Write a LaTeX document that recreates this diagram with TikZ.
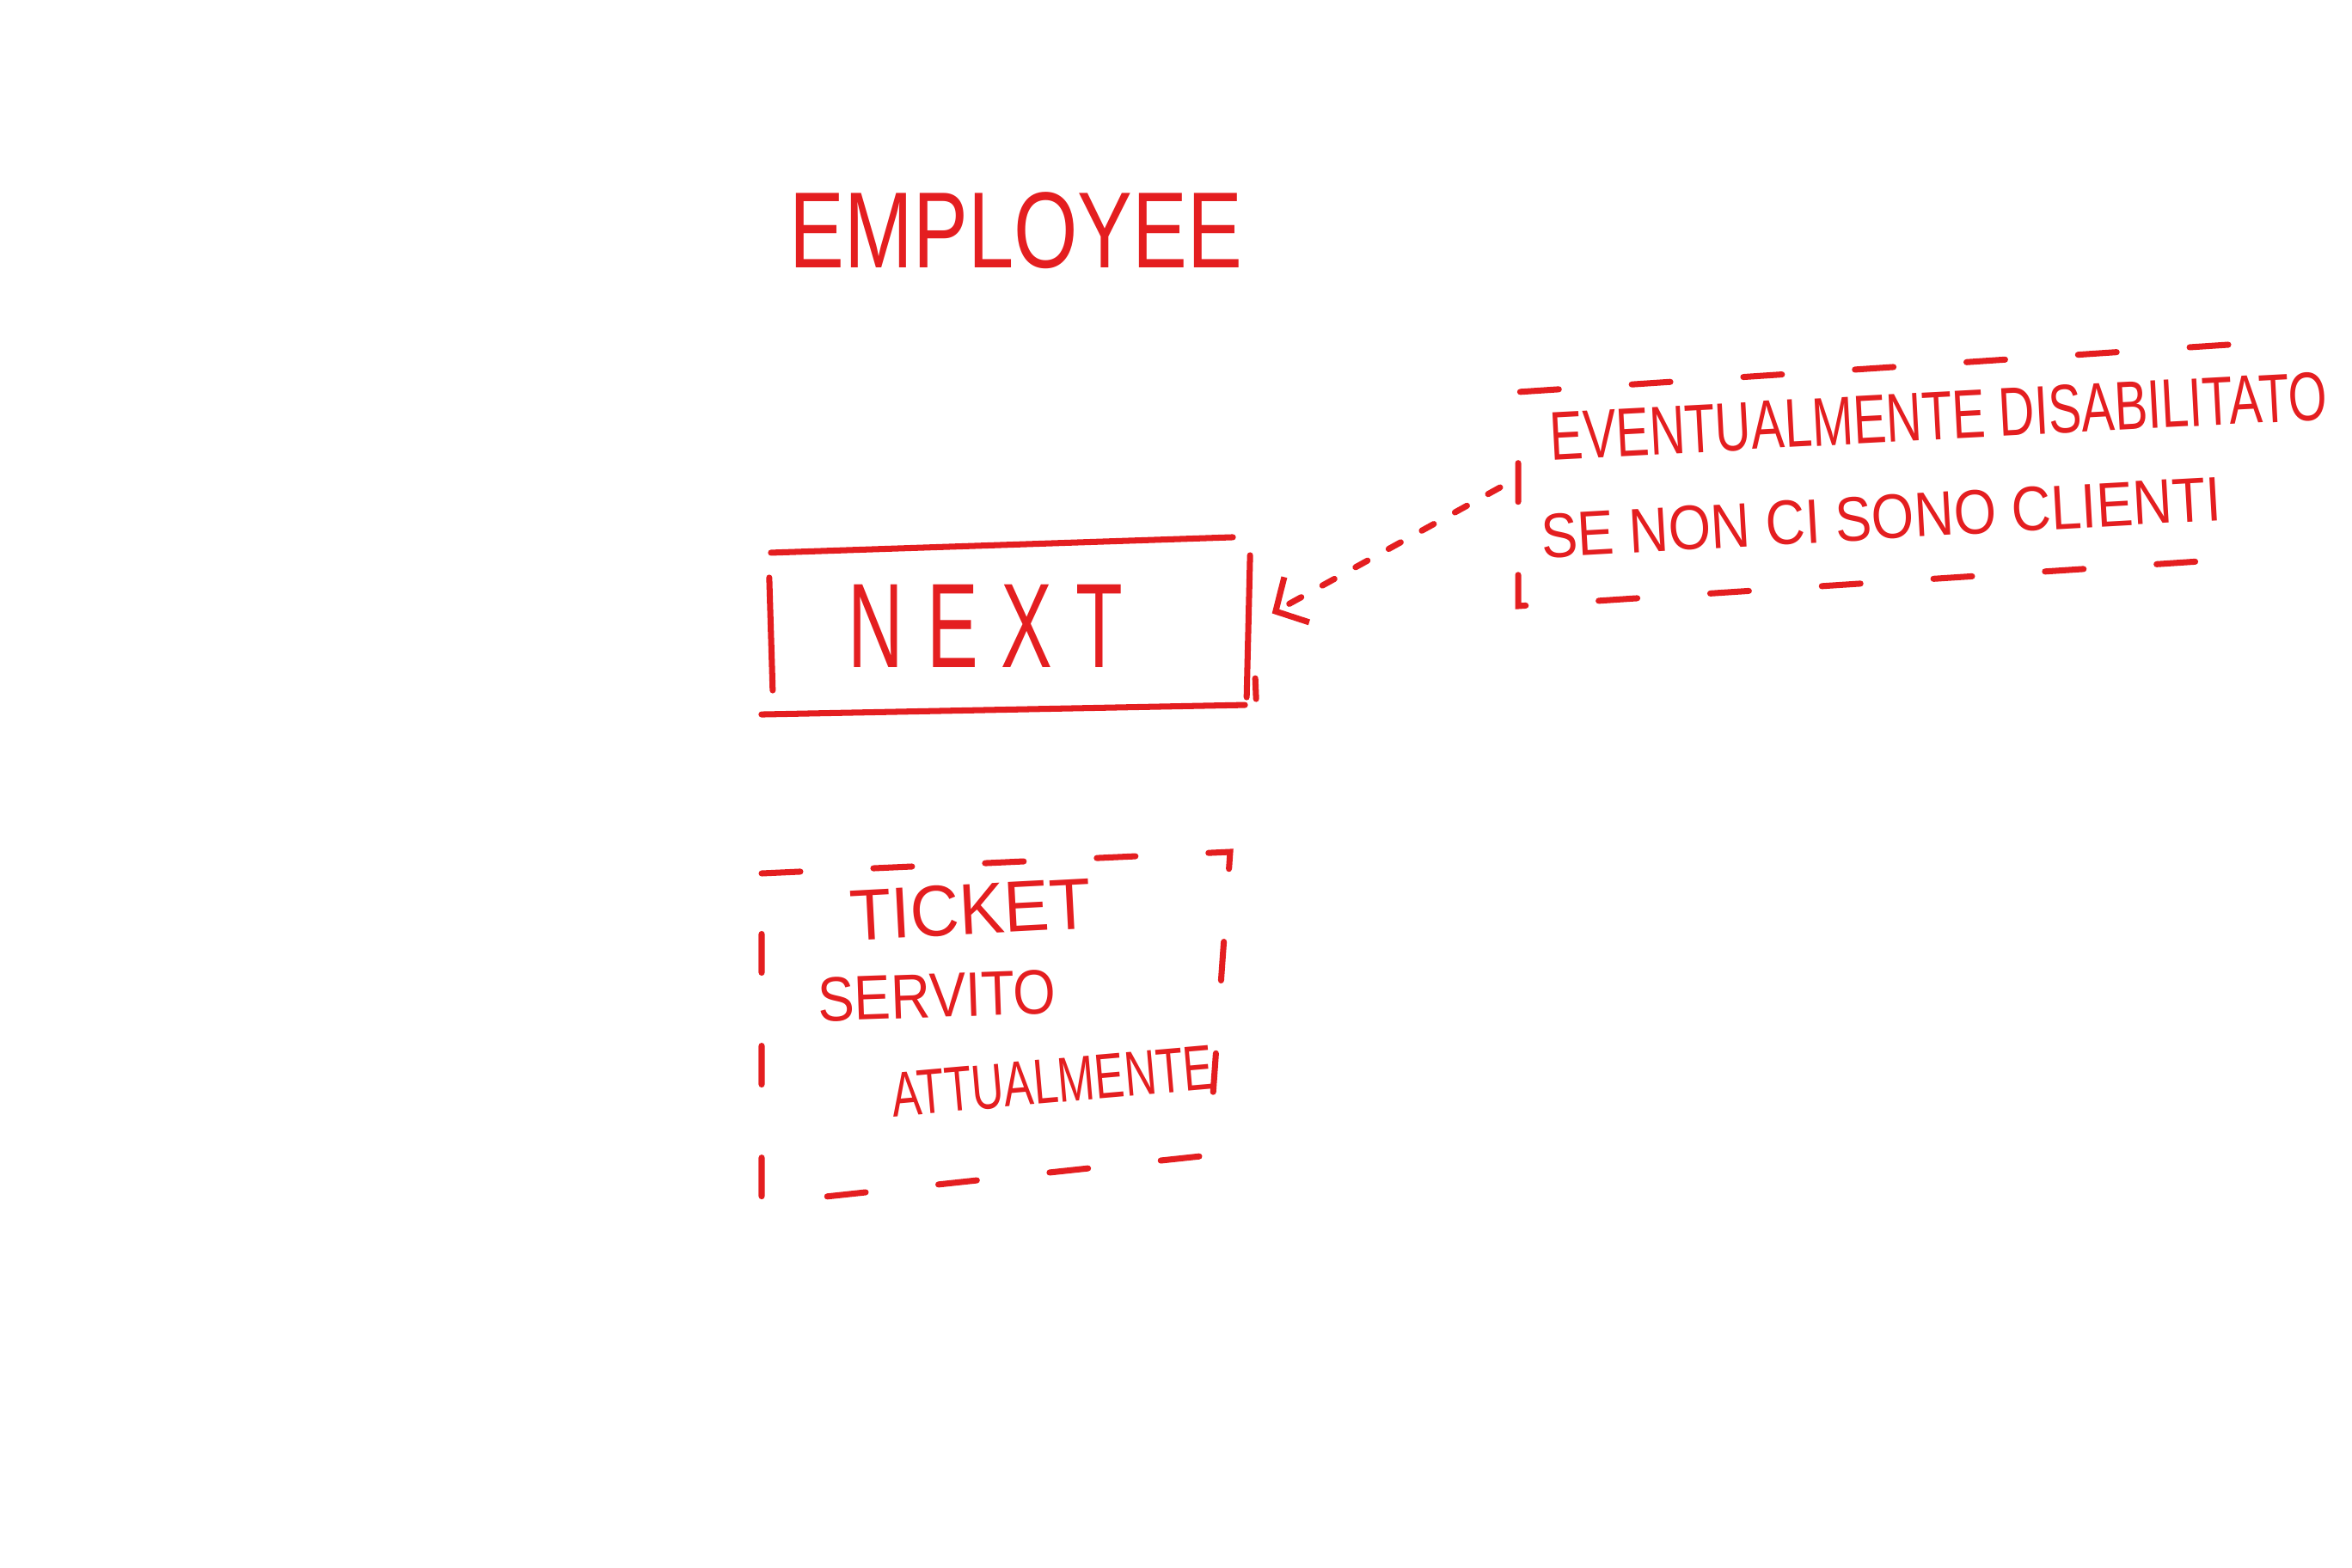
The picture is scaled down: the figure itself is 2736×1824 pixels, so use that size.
\documentclass[tikz,border=0pt]{standalone}
\usepackage{fontspec}
\setmainfont{Liberation Sans}
\usetikzlibrary{arrows.meta,calc}
\definecolor{ink}{HTML}{E41E20}
\begin{document}
\begin{tikzpicture}[x=0.01cm,y=-0.01cm,
  every node/.style={text=ink, inner sep=0pt, outer sep=0pt},
  stroke/.style={draw=ink, line width=2pt, line cap=round},
  dashbox/.style={stroke, dash pattern=on 0.45cm off 0.85cm},
  hand/.style={font=\fontsize{#1}{#1}\selectfont}
]
\useasboundingbox[fill=white] (0,0) rectangle (2736,1824);

% title
\node[hand=35.8] (employee) at (1182,268) {\scalebox{0.76}[1]{EMPLOYEE}};

% NEXT box
\node[minimum width=5.66cm, minimum height=2cm] (next) at (1172,727) {};
\node[hand=39.8] (nextlbl) at (1133,728) {\scalebox{0.64}[1]{{\addfontfeature{LetterSpace=30}NEXT}\kern-0.3em}};
\draw[stroke] ($(next.north west)+(8,16)$) -- ($(next.north east)+(-21,-2)$);
\draw[stroke] ($(next.north west)+(6,45)$) -- ($(next.south west)+(10,-24)$);
\draw[stroke] ($(next.south west)+(-3,4)$) -- ($(next.south east)+(-7,-7)$);
\draw[stroke] ($(next.north east)+(-1,19)$) -- ($(next.south east)+(-5,-16)$);
\draw[stroke] ($(next.south east)+(5,-38)$) -- ($(next.south east)+(6,-14)$);

% note
\node[hand=22.8, rotate=3] (note1) at (2255,484) {\scalebox{0.72}[1]{EVENTUALMENTE DISABILITATO}};
\node[hand=20.8, rotate=3.2] (note2) at (2188,602) {\scalebox{0.87}[1]{SE NON CI SONO CLIENTI}};
\draw[dashbox] (2592,401) -- (1766,456) -- (1766,705) -- (2620,649);
\coordinate (notetail) at (1745,567);

% arrow
\draw[stroke, dash pattern=on 0.16cm off 0.28cm, shorten >=0.28cm,
  -{Straight Barb[length=0.28cm,width=0.6cm,line width=2pt]}] (notetail) -- (next.east);

% ticket box
\node[hand=23.9, rotate=3] (ticket) at (1129,1058) {\scalebox{0.94}[1]{TICKET}};
\node[hand=20.8, rotate=2] (servito) at (1090,1158) {\scalebox{0.87}[1]{SERVITO}};
\node[hand=21, rotate=5] (attual) at (1224,1258) {\scalebox{0.7}[1]{ATTUALMENTE}};
\draw[dashbox] (886,1016) -- (1431,991) -- (1406,1344) -- (886,1400) -- cycle;
\end{tikzpicture}
\end{document}
